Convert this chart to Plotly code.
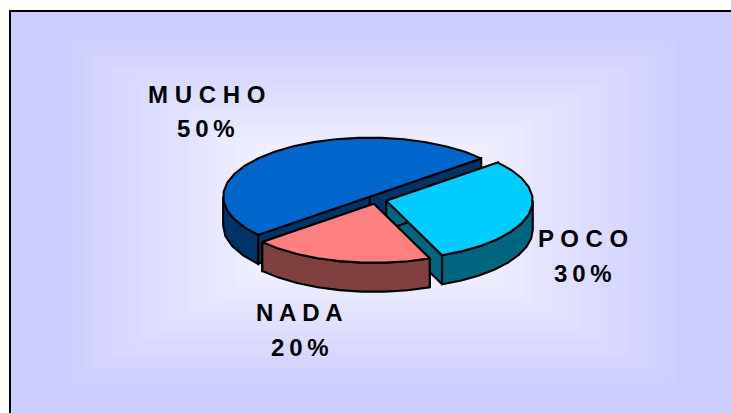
import math
import plotly.graph_objects as go

# --- data ---
categories = ["MUCHO", "POCO", "NADA"]
values = [50, 30, 20]
top_colors = ["#0066CC", "#00CCFF", "#FF8080"]
side_colors = ["#003366", "#006680", "#804040"]
label_centers = [(206, 94, 128), (583, 238, 273), (299.5, 312, 347)]
start_angles = [40.4, 292.4, 220.4]  # rim parameter where each slice starts, degrees

# --- pie geometry (pixel-like plot units) ---
W, H = 731, 413
CX, CY = 376.3, 199.8
RX, RY = 146.5, 59
DEPTH = 29
EXPLODE = 0.07
STEP = 9.0


def lerp_color(t):
    c = 204 + (255 - 204) * t ** 0.92
    return f"rgb({c:.0f},{c:.0f},255)"


def rim(cx, cy, t0, t1, dy=0):
    n = max(2, int(round((t1 - t0) / STEP)) + 1)
    out = []
    for i in range(n):
        t = math.radians(t0 + (t1 - t0) * i / (n - 1))
        out.append((cx + RX * math.cos(t), cy - RY * math.sin(t) + dy))
    return out


fig = go.Figure()


def poly(points, color):
    xs = [p[0] for p in points] + [points[0][0]]
    ys = [p[1] for p in points] + [points[0][1]]
    fig.add_trace(go.Scatter(x=xs, y=ys, mode="lines", fill="toself", fillcolor=color,
                             line=dict(color="black", width=2.1), hoverinfo="skip",
                             showlegend=False))


total = sum(values)
# painted back to front: MUCHO, POCO, NADA
for name, v, top, side, t0 in zip(categories, values, top_colors, side_colors, start_angles):
    span = 360 * v / total
    t1 = t0 + span
    mid = math.radians((t0 + t1) / 2)
    cx = CX + EXPLODE * RX * math.cos(mid)
    cy = CY - EXPLODE * RY * math.sin(mid)
    for t in (t0, t1):
        r = math.radians(t)
        ex, ey = cx + RX * math.cos(r), cy - RY * math.sin(r)
        poly([(cx, cy), (ex, ey), (ex, ey + DEPTH), (cx, cy + DEPTH)], side)
    # outer wall: only the part of the rim that faces the viewer
    for lo, hi in ((180, 360), (540, 720)):
        a, b = max(t0, lo), min(t1, hi)
        if b > a:
            poly(rim(cx, cy, a, b) + rim(cx, cy, a, b, DEPTH)[::-1], side)
    poly([(cx, cy)] + rim(cx, cy, t0, t1), top)

# --- rectangular gradient background ---
shapes = [dict(type="rect", layer="below", x0=0, x1=W, y0=0, y1=H,
               line=dict(width=0), fillcolor=lerp_color(0))]
BANDS = 32
GX, GY = 370, 212
FMAX = 0.84
for i in range(BANDS):
    f = FMAX * (1 - i / BANDS)
    shapes.append(dict(type="rect", layer="below", xref="x", yref="y",
                       x0=GX - 365 * f, x1=GX + 365 * f,
                       y0=GY - 205 * f, y1=GY + 205 * f,
                       line=dict(width=0), fillcolor=lerp_color((i + 1) / BANDS)))
# white margin outside of the frame, then the frame itself
shapes.append(dict(type="rect", layer="below", x0=0, x1=10, y0=0, y1=H,
                   line=dict(width=0), fillcolor="white"))
shapes.append(dict(type="rect", layer="below", x0=0, x1=W, y0=0, y1=11,
                   line=dict(width=0), fillcolor="white"))
shapes.append(dict(type="line", x0=10, x1=10, y0=10, y1=H, line=dict(color="black", width=2)))
shapes.append(dict(type="line", x0=9, x1=W, y0=11, y1=11, line=dict(color="black", width=2)))

annotations = []
for name, v, (x, y1, y2) in zip(categories, values, label_centers):
    digits = f"{round(100 * v / total)}%"
    for text, y in ((" ".join(name), y1), ("\u2009".join(digits), y2)):
        annotations.append(dict(x=x, y=y, text=f"<b>{text}</b>", showarrow=False,
                                xref="x", yref="y", xanchor="center", yanchor="middle",
                                font=dict(family="Liberation Sans", size=24, color="black")))

fig.update_layout(
    width=W, height=H, margin=dict(l=0, r=0, t=0, b=0),
    paper_bgcolor="white", plot_bgcolor="white", showlegend=False,
    xaxis=dict(range=[0, W], visible=False, fixedrange=True),
    yaxis=dict(range=[H, 0], visible=False, fixedrange=True),
    shapes=shapes, annotations=annotations,
)
fig.write_html("out.html", config={"displayModeBar": False},
               post_script="document.body.style.margin='0';document.body.style.overflow='hidden';")
